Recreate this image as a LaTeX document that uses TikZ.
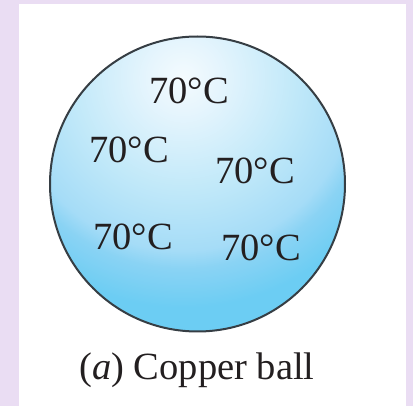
\documentclass[tikz,border=0pt]{standalone}
\usepackage{fontspec}
\setmainfont{Liberation Serif}
\definecolor{lav}{HTML}{EADDF3}
\definecolor{sA}{HTML}{F4FBFE}
\definecolor{sB}{HTML}{E6F5FD}
\definecolor{sC}{HTML}{C2E9F9}
\definecolor{sD}{HTML}{A5DCF7}
\definecolor{sE}{HTML}{8AD3F4}
\definecolor{sF}{HTML}{6CCDF3}
\definecolor{rim}{HTML}{363E44}
\definecolor{ink}{HTML}{231F20}
\pgfdeclareradialshading{ballshade}{\pgfpoint{0bp}{0bp}}{color(0bp)=(sA); color(3.1bp)=(sB); color(9.8bp)=(sC); color(15.4bp)=(sD); color(17bp)=(sE); color(20.5bp)=(sF); color(50bp)=(sF)}
\tikzset{
  temp/.style={font=\fontsize{38.5}{40}\selectfont, text=ink, inner sep=0pt},
  captext/.style={font=\fontsize{38.5}{40}\selectfont, text=ink, inner sep=0pt, anchor=base},
}
\begin{document}
\begin{tikzpicture}[x=1pt,y=-1pt]
\useasboundingbox (0,0) rectangle (413,406);
\fill[lav] (0,0) rectangle (413,406);
\fill[white] (19,4) rectangle (406,406);
\begin{scope}
  \clip (197.5,184) circle (147.5);
  \fill[sF] (197.5,184) circle (150);
  \shade[shading=ballshade] (183,78) circle (280);
\end{scope}
\draw[rim, line width=2pt] (197.5,184) circle (147.5);
\node[temp] (t1) at (189,91) {70°C};
\node[temp] (t2) at (129,150) {70°C};
\node[temp] (t3) at (255,171) {70°C};
\node[temp] (t4) at (133,237) {70°C};
\node[temp] (t5) at (261,248) {70°C};
\node[captext] (c) at (197,380) {(\textit{a}) Copper ball};
\end{tikzpicture}
\end{document}
